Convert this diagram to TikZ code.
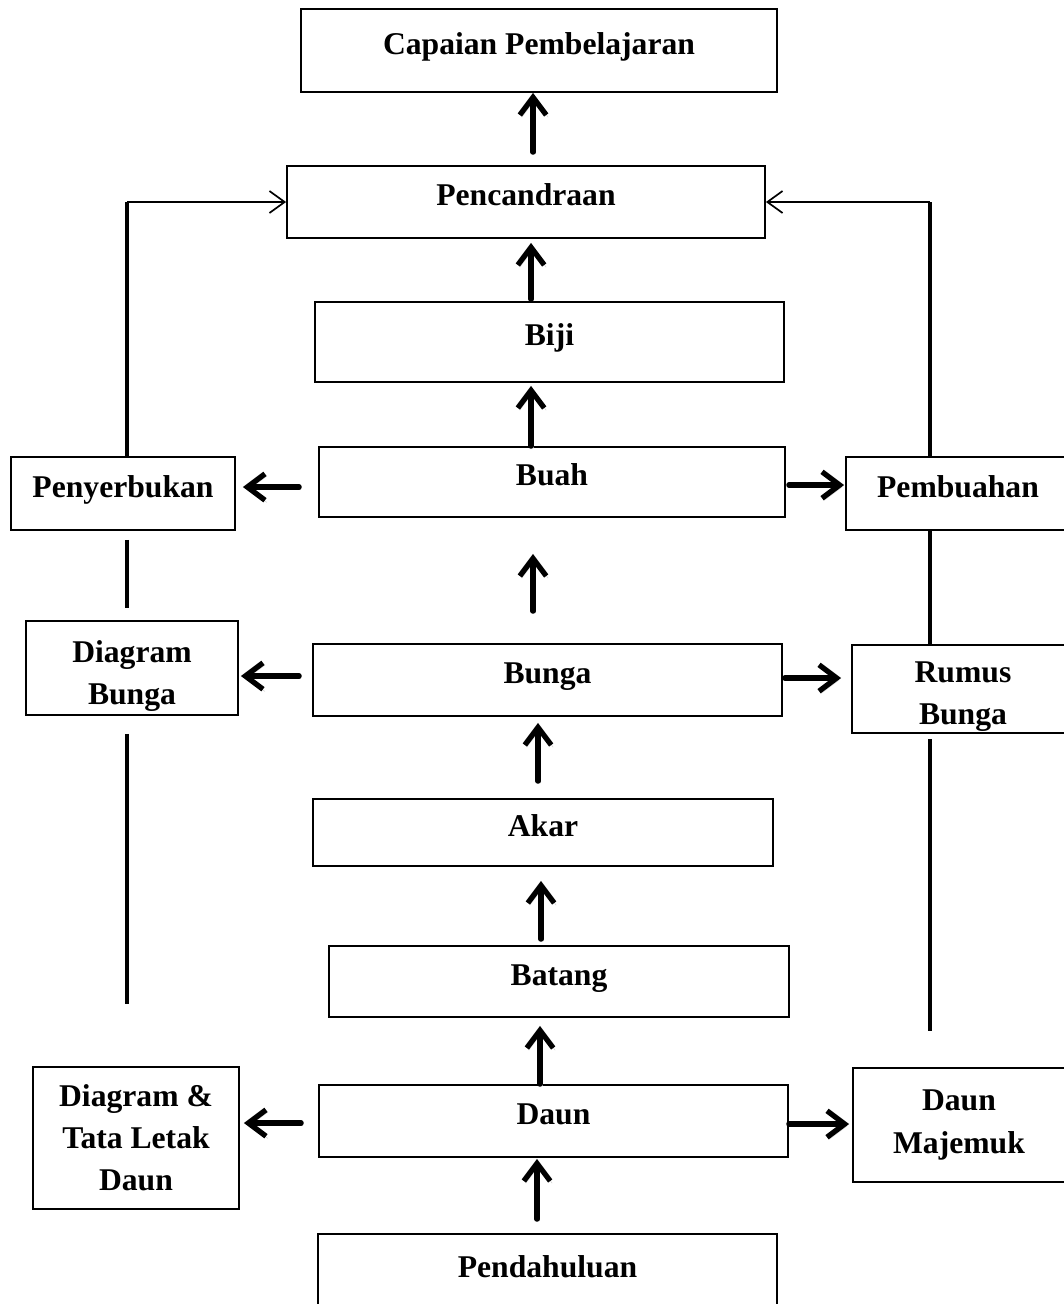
\documentclass[tikz,border=0pt]{standalone}
\usepackage{fontspec}
\setmainfont{Liberation Serif}
\usetikzlibrary{arrows.meta,calc,positioning}
\newlength{\pxu}
\setlength{\pxu}{0.025cm}
\newcommand{\boxfont}{\fontsize{22.5}{30}\selectfont\bfseries}
% push the first line of a box down
\newcommand{\lowerby}[1]{\rule{0pt}{#1}}
\tikzset{
  box/.style={draw, line width=1.3pt, inner sep=0pt, align=center, font=\boxfont},
  onebox/.style={box, text height=15.7pt, text depth=10.1pt},
  bigarrow/.style={line width=3.8pt, line cap=round, -{Straight Barb[length=0.44cm,width=0.66cm,line width=3.8pt]},
    preaction={draw=black!18, transform canvas={shift={(1.4pt,-1.6pt)}}}},
  sidearrow/.style={line width=1.4pt, -{Straight Barb[length=0.38cm,width=0.55cm,line width=1.2pt]}},
  sideline/.style={line width=2.3pt}
}

\begin{document}
\begin{tikzpicture}[x=\pxu, y=-\pxu]
    \useasboundingbox (0,0) rectangle (1064,1304);
    \clip (0,0) rectangle (1064,1304);

    % the middle column
    \node[onebox, minimum width=476\pxu, minimum height=83\pxu] (capaian) at (539,50.5) {Capaian Pembelajaran};
    \node[onebox, minimum width=478\pxu, minimum height=72\pxu] (pencandraan) at (526,202) {Pencandraan};
    \node[onebox, minimum width=469\pxu, minimum height=80\pxu] (biji) at (549.5,342) {Biji};
    \node[onebox, minimum width=466\pxu, minimum height=70\pxu] (buah) at (552,482) {Buah};
    \node[onebox, minimum width=469\pxu, minimum height=72\pxu] (bunga) at (547.5,680) {Bunga};
    \node[onebox, minimum width=460\pxu, minimum height=67\pxu] (akar) at (543,832.5) {Akar};
    \node[onebox, minimum width=460\pxu, minimum height=71\pxu] (batang) at (559,981.5) {Batang};
    \node[onebox, minimum width=469\pxu, minimum height=72\pxu] (daun) at (553.5,1121) {Daun};
    \node[onebox, minimum width=459\pxu, minimum height=80\pxu] (pendahuluan) at (547.5,1274) {Pendahuluan};

    % the side boxes
    \node[onebox, minimum width=224\pxu, minimum height=73\pxu] (penyerbukan) at (123,493.5) {Penyerbukan};
    \node[onebox, minimum width=224\pxu, minimum height=73\pxu] (pembuahan) at (958,493.5) {Pembuahan};
    \node[box, minimum width=212\pxu, minimum height=94\pxu] (diagbunga) at (132,668) {\lowerby{27pt}Diagram\\Bunga};
    \node[box, minimum width=222\pxu, minimum height=88\pxu] (rumus) at (963,689) {\lowerby{26pt}Rumus\\Bunga};
    \node[box, minimum width=206\pxu, minimum height=142\pxu] (diagdaun) at (136,1138) {Diagram \&\\Tata Letak\\Daun};
    \node[box, minimum width=212\pxu, minimum height=114\pxu] (majemuk) at (959,1125) {Daun\\Majemuk};

    % thick arrows going up
    \draw[bigarrow, shorten <=13\pxu] (pencandraan.north -| 533,0) -- (capaian.south -| 533,0);
    \draw[bigarrow, shorten <=2\pxu, shorten >=4\pxu] (biji.north -| 531,0) -- (pencandraan.south -| 531,0);
    \draw[bigarrow, shorten >=3\pxu] (buah.north -| 531,0) -- (biji.south -| 531,0);
    \draw[bigarrow, shorten <=32\pxu, shorten >=36\pxu] (bunga.north -| 533,0) -- (buah.south -| 533,0);
    \draw[bigarrow, shorten <=17\pxu, shorten >=6\pxu] (akar.north -| 538,0) -- (bunga.south -| 538,0);
    \draw[bigarrow, shorten <=6\pxu, shorten >=14\pxu] (batang.north -| 541,0) -- (akar.south -| 541,0);
    \draw[bigarrow, shorten >=8\pxu] (daun.north -| 540,0) -- (batang.south -| 540,0);
    \draw[bigarrow, shorten <=14\pxu, shorten >=1\pxu] (pendahuluan.north -| 537,0) -- (daun.south -| 537,0);

    % thick arrows to the sides
    \draw[bigarrow, shorten <=19\pxu, shorten >=7\pxu] (buah.west |- 0,487) -- (penyerbukan.east |- 0,487);
    \draw[bigarrow, shorten <=3\pxu, shorten >=1\pxu] (buah.east |- 0,485) -- (pembuahan.west |- 0,485);
    \draw[bigarrow, shorten <=13\pxu, shorten >=2\pxu] (bunga.west |- 0,676) -- (diagbunga.east |- 0,676);
    \draw[bigarrow, shorten <=2\pxu, shorten >=10\pxu] (bunga.east |- 0,678) -- (rumus.west |- 0,678);
    \draw[bigarrow, shorten <=17\pxu, shorten >=4\pxu] (daun.west |- 0,1123) -- (diagdaun.east |- 0,1123);
    \draw[bigarrow, shorten >=3\pxu] (daun.east |- 0,1124) -- (majemuk.west |- 0,1124);

    % side lines back to pencandraan
    \draw[sideline] (penyerbukan.north -| 127,0) -- (pencandraan.west -| 127,0);
    \draw[sidearrow] (pencandraan.west -| 127,0) -- (pencandraan.west);
    \draw[sideline] (pembuahan.north -| 930,0) -- (pencandraan.east -| 930,0);
    \draw[sidearrow] (pencandraan.east -| 930,0) -- (pencandraan.east);
    \draw[sideline, shorten <=9\pxu, shorten >=12\pxu] (penyerbukan.south -| 127,0) -- (diagbunga.north -| 127,0);
    \draw[sideline, shorten <=18\pxu, shorten >=62\pxu] (diagbunga.south -| 127,0) -- (diagdaun.north -| 127,0);
    \draw[sideline] (pembuahan.south -| 930,0) -- (rumus.north -| 930,0);
    \draw[sideline, shorten <=5\pxu, shorten >=36\pxu] (rumus.south -| 930,0) -- (majemuk.north -| 930,0);
\end{tikzpicture}
\end{document}
